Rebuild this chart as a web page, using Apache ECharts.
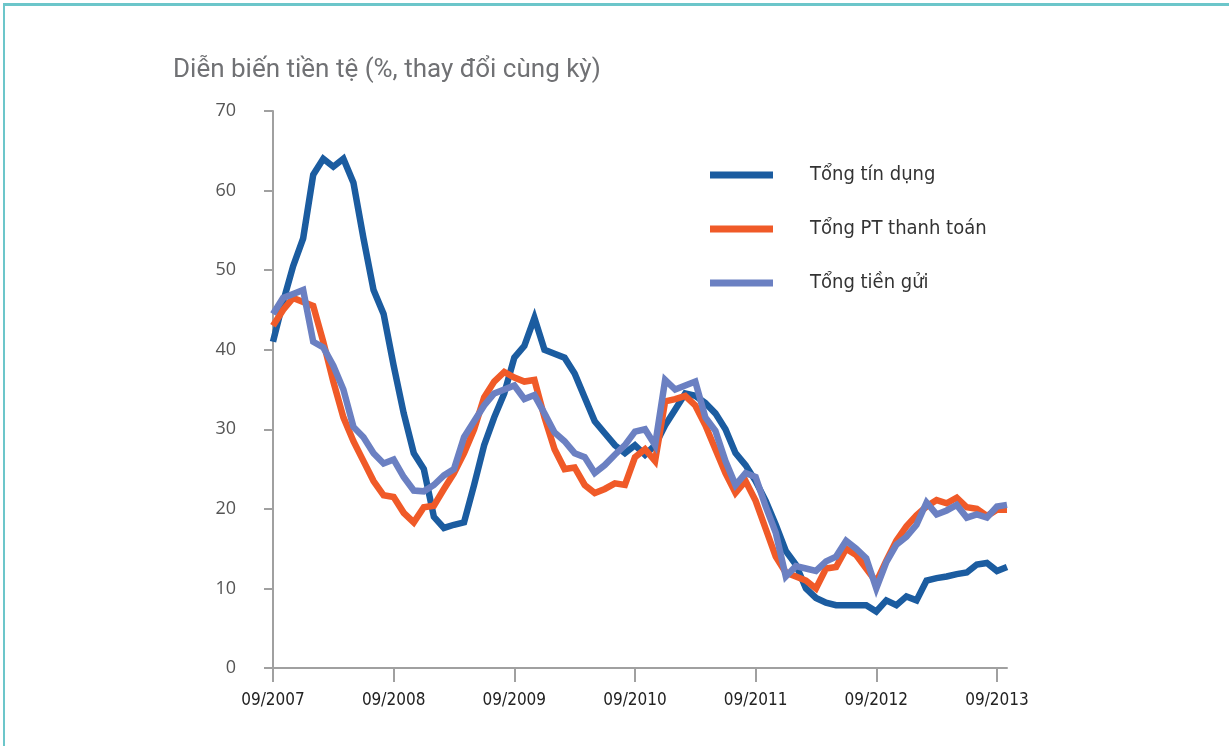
<!DOCTYPE html>
<html>
<head>
<meta charset="utf-8">
<script src="https://cdn.jsdelivr.net/npm/echarts@6/dist/echarts.min.js"></script>
<style>
  html, body { margin: 0; padding: 0; background: #fff; }
  #frame { position: absolute; left: 3px; top: 3px; width: 1226px; height: 743px;
           border-top: 3px solid #6cc6ca; border-left: 2px solid #6cc6ca; box-sizing: border-box; }
  #chart { position: absolute; left: 0; top: 0; width: 1229px; height: 746px; }
</style>
</head>
<body>
<div id="frame"></div>
<div id="chart"></div>
<script>
// Monthly categories 09/2007 .. 10/2013
const months = [];
for (let y = 2007; y <= 2013; y++) {
  for (let m = 1; m <= 12; m++) {
    if (y === 2007 && m < 9) continue;
    if (y === 2013 && m > 10) continue;
    months.push((m < 10 ? '0' + m : '' + m) + '/' + y);
  }
}

const seriesNames = ['Tổng tín dụng', 'Tổng PT thanh toán', 'Tổng tiền gửi'];

const credit = [
  41, 46, 50.5, 54, 62, 64, 63, 64, 61, 54, 47.5, 44.5,
  38, 32, 27, 25, 19, 17.6, 18, 18.3, 23, 28, 31.5, 34.5,
  39, 40.5, 44, 40, 39.5, 39, 37, 34, 31, 29.5, 28, 27,
  28, 26.8, 28, 30.5, 32.5, 34.5, 34.2, 33.3, 32, 30, 27, 25.5,
  23.5, 21, 18, 14.7, 13, 10, 8.8, 8.2, 7.9, 7.9, 7.9, 7.9,
  7.1, 8.5, 7.9, 9, 8.5, 11, 11.3, 11.5, 11.8, 12, 13, 13.2,
  12.2, 12.7
];

const payment = [
  43, 45, 46.5, 46, 45.5, 41, 36, 31.5, 28.5, 26, 23.5, 21.7,
  21.5, 19.5, 18.3, 20.2, 20.4, 22.5, 24.5, 27, 30, 34, 36, 37.2,
  36.5, 36, 36.2, 31.5, 27.5, 25, 25.2, 23, 22, 22.5, 23.2, 23,
  26.5, 27.5, 26, 33.5, 33.8, 34.2, 33, 30.5, 27.5, 24.5, 22, 23.5,
  21, 17.5, 14, 12, 11.5, 11, 10, 12.5, 12.7, 15, 14.2, 12.5,
  10.8, 13.5, 16, 17.8, 19.2, 20.3, 21.1, 20.7, 21.4, 20.2, 20, 19.1,
  19.9, 19.9
];

const deposits = [
  44.5, 46.5, 47, 47.5, 41, 40.3, 38, 35, 30.3, 29, 27, 25.7,
  26.2, 24, 22.3, 22.2, 23, 24.2, 25, 29, 31, 33, 34.5, 35,
  35.5, 33.8, 34.3, 32, 29.6, 28.5, 27, 26.5, 24.5, 25.5, 26.8, 28,
  29.7, 30, 28, 36.2, 35, 35.5, 36, 31.5, 29.8, 26, 23, 24.5,
  24, 20.3, 17, 11.5, 12.8, 12.5, 12.2, 13.4, 14, 16, 15, 13.8,
  10, 13.3, 15.5, 16.5, 18, 20.8, 19.3, 19.8, 20.5, 18.9, 19.3, 18.9,
  20.3, 20.5
];

const yTicks = [0, 10, 20, 30, 40, 50, 60, 70];
const colors = ['#1b5ca0', '#f05a28', '#6b80c2'];
const condensed = "'Liberation Sans Narrow', 'DejaVu Sans Condensed', sans-serif";

const chart = echarts.init(document.getElementById('chart'), null, { renderer: 'canvas' });

const mkSeries = (name, data, color) => ({
  name, type: 'line', data, symbol: 'none', smooth: false,
  lineStyle: { width: 6.5, color, join: 'miter' },
  itemStyle: { color },
  emphasis: { disabled: true }
});

chart.setOption({
  animation: false,
  backgroundColor: 'transparent',
  title: {
    text: 'Diễn biến tiền tệ (%, thay đổi cùng kỳ)',
    left: 168, top: 52,
    textStyle: { fontFamily: 'Roboto, sans-serif', fontWeight: 'normal', fontSize: 26, color: '#707174' }
  },
  legend: {
    orient: 'vertical',
    left: 705, top: 160,
    itemWidth: 63, itemHeight: 7, itemGap: 34,
    icon: 'rect',
    data: seriesNames,
    textStyle: { fontFamily: condensed, fontSize: 20, color: '#333', padding: [0, 0, 0, 32] }
  },
  grid: { left: 273, right: 222, top: 111, bottom: 78, containLabel: false },
  xAxis: {
    type: 'category',
    data: months,
    boundaryGap: false,
    axisLine: { lineStyle: { color: '#a0a0a0', width: 2 } },
    axisTick: { show: true, interval: 11, length: 14, lineStyle: { color: '#a0a0a0', width: 2 } },
    axisLabel: { interval: 11, margin: 24, fontFamily: condensed, fontSize: 17, color: '#222' },
    splitLine: { show: false }
  },
  yAxis: {
    type: 'value',
    min: yTicks[0], max: yTicks[yTicks.length - 1], interval: 10,
    axisLine: { show: true, lineStyle: { color: '#a0a0a0', width: 2 } },
    axisTick: { show: true, length: 9, lineStyle: { color: '#a0a0a0', width: 2 } },
    axisLabel: { margin: 37, fontFamily: "'Open Sans', sans-serif", fontSize: 18, color: '#555' },
    splitLine: { show: false }
  },
  series: [
    mkSeries(seriesNames[0], credit, colors[0]),
    mkSeries(seriesNames[1], payment, colors[1]),
    mkSeries(seriesNames[2], deposits, colors[2])
  ]
});
</script>
</body>
</html>
